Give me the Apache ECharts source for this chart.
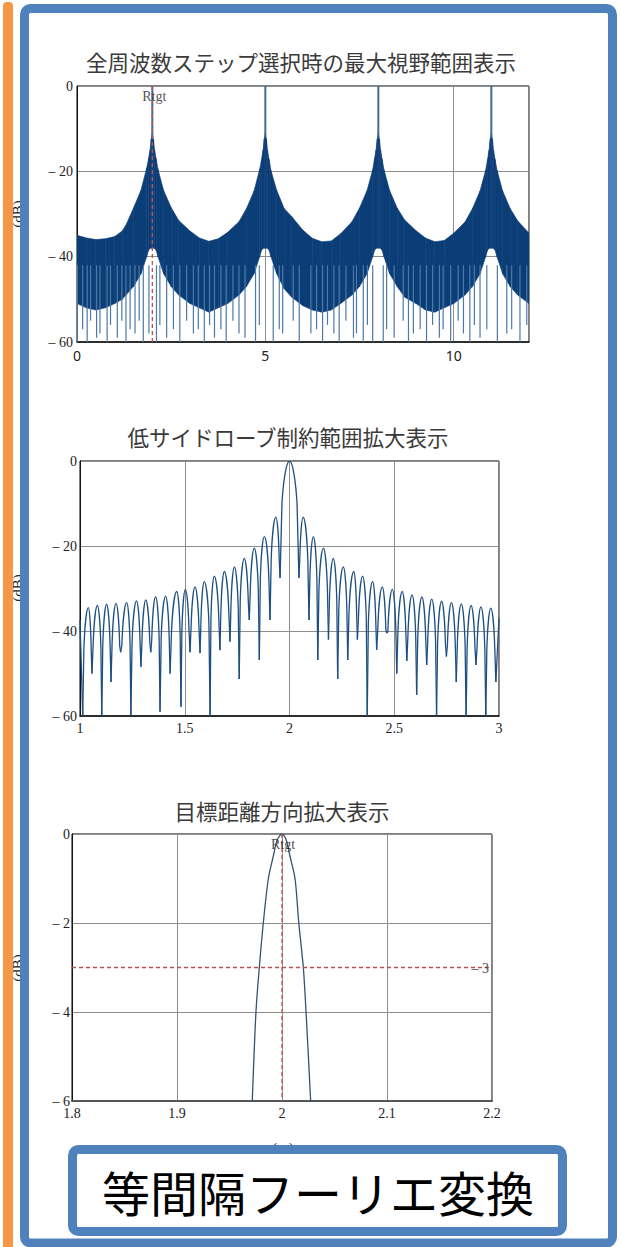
<!DOCTYPE html>
<html>
<head>
<meta charset="utf-8">
<script src="https://cdn.jsdelivr.net/npm/echarts@6/dist/echarts.min.js"></script>
<style>
  html, body { margin: 0; padding: 0; background: #fff; }
  #main { width: 621px; height: 1247px; }
</style>
</head>
<body>
<div id="main"></div>
<script>
// ---------- text ----------
const chartTitles = ['全周波数ステップ選択時の最大視野範囲表示', '低サイドローブ制約範囲拡大表示', '目標距離方向拡大表示'];
const bannerText = '等間隔フーリエ変換';
const yAxisName = '(dB)';
const xAxisName = '(m)';
const targetLabel = 'Rtgt';
const targetX = 2;          // target range
const halfPowerDb = -3;     // -3 dB reference level

// ---------- axes ----------
const chart1XRange = [0, 12], chart1XStep = 5;
const chart1YRange = [-60, 0], chart1YStep = 20;
const chart2XRange = [1, 3], chart2XStep = 0.5;
const chart2YRange = [-60, 0], chart2YStep = 20;
const chart3XRange = [1.8, 2.2], chart3XStep = 0.1;
const chart3YRange = [-6, 0], chart3YStep = 2;

// ---------- chart 1 : full range, dense response ----------
// envelope of the dense oscillation (top and solid bottom of the filled band)
const chart1EnvX = [0, 0.25, 0.5, 0.75, 1.0, 1.2, 1.3, 1.5, 1.7, 1.85, 1.9, 1.94, 1.97, 2.0,
  2.03, 2.06, 2.1, 2.15, 2.3, 2.5, 2.7, 3.0, 3.25, 3.5, 3.75, 4.0, 4.3, 4.5, 4.7, 4.85, 4.9, 4.94, 4.97, 5.0,
  5.03, 5.06, 5.1, 5.15, 5.3, 5.5, 5.7, 6.0, 6.25, 6.5, 6.75, 7.0, 7.3, 7.5, 7.7, 7.85, 7.9, 7.94, 7.97, 8.0,
  8.03, 8.06, 8.1, 8.15, 8.3, 8.5, 8.7, 9.0, 9.25, 9.5, 9.75, 10.0, 10.3, 10.5, 10.7, 10.85, 10.9, 10.94, 10.97, 11.0,
  11.03, 11.06, 11.1, 11.15, 11.3, 11.5, 11.7, 12.0];
const chart1UpperDb = [-35.0, -35.6, -36.0, -35.8, -35.3, -34.0, -32.6, -28.6, -24.4, -19.2, -17.0, -15.0, -12.5, -11.0,
  -12.5, -15.0, -17.0, -19.5, -24.5, -28.5, -31.5, -34.0, -35.6, -36.4, -35.8, -34.3, -31.8, -28.7, -24.6, -19.5, -17.2, -15.0, -12.5, -11.0,
  -12.5, -15.2, -17.2, -19.8, -24.4, -28.7, -30.6, -33.8, -35.7, -36.5, -36.3, -34.6, -31.8, -28.6, -24.5, -19.6, -17.0, -15.0, -12.5, -11.0,
  -12.5, -15.0, -17.1, -19.6, -24.5, -28.6, -31.4, -33.9, -35.6, -36.5, -36.2, -34.5, -31.9, -28.7, -24.6, -19.7, -17.2, -15.0, -12.5, -11.0,
  -12.5, -15.1, -17.2, -19.7, -24.6, -28.7, -31.6, -34.5];
const chart1LowerDb = [-51, -52, -52.5, -52, -51, -50, -49, -47, -44, -40, -38.5, -38, -38, -38,
  -38, -38, -38.5, -40, -44, -47, -49, -51, -52, -53, -52, -51, -49, -47, -44, -40, -38.5, -38, -38, -38,
  -38, -38, -38.5, -40, -44, -47.5, -49.5, -51.5, -52.5, -53, -52.5, -51, -49, -47, -44, -40, -38.5, -38, -38, -38,
  -38, -38, -38.5, -40, -44, -47, -49.5, -51, -52.5, -53, -52, -51, -49, -47, -44, -40, -38.5, -38, -38, -38,
  -38, -38, -38.5, -40, -44, -47, -49, -51];
// aliased main-lobe peaks
const chart1PeakX = [2, 5, 8, 11];
const chart1PeakDb = [0, 0, 0, 0];
// deep nulls reaching below the band
const chart1NullX = [0.01, 0.15, 0.27, 0.36, 0.52, 0.61, 0.80, 0.89, 1.07, 1.19, 1.30, 1.41, 1.54, 1.65, 1.76, 1.91,
  2.11, 2.20, 2.38, 2.56, 2.73, 2.91, 3.09, 3.22, 3.38, 3.52, 3.65, 3.82, 3.96, 4.14, 4.30, 4.46, 4.74, 4.84,
  5.21, 5.37, 5.46, 5.74, 5.90, 6.21, 6.36, 6.52, 6.65, 6.82, 6.96, 7.14, 7.34, 7.42, 7.60, 7.71, 7.85,
  8.13, 8.22, 8.42, 8.66, 8.80, 8.93, 9.11, 9.28, 9.44, 9.62, 9.72, 9.92, 10.12, 10.26, 10.43, 10.55, 10.70, 10.88,
  11.16, 11.41, 11.54, 11.76, 11.94];
const chart1NullDb = [-60, -57, -60, -55, -59, -58, -60, -56, -59, -55, -60, -57, -58, -55, -60, -58,
  -60, -56, -59, -57, -60, -55, -58, -57, -60, -56, -59, -57, -60, -55, -58, -59, -60, -56,
  -60, -57, -58, -55, -60, -58, -57, -60, -56, -58, -60, -55, -59, -58, -60, -56, -60,
  -60, -57, -59, -55, -60, -58, -57, -60, -56, -59, -57, -60, -55, -58, -60, -56, -59, -57,
  -60, -58, -57, -60, -56];

// ---------- chart 2 : zoom around the target, lobe by lobe ----------
// alternating null / lobe-peak positions (even index = null, odd index = peak)
const chart2X = [1.013, 1.040, 1.057, 1.083, 1.104, 1.127, 1.148, 1.172, 1.194, 1.223, 1.243, 1.270, 1.291, 1.314,
  1.338, 1.361, 1.382, 1.409, 1.430, 1.462, 1.482, 1.503, 1.525, 1.549, 1.573, 1.593, 1.621, 1.641, 1.668, 1.689,
  1.716, 1.737, 1.760, 1.784, 1.808, 1.832, 1.856, 1.880, 1.907, 1.935, 1.955, 2.000, 2.045, 2.065, 2.093, 2.114,
  2.135, 2.162, 2.186, 2.209, 2.230, 2.257, 2.278, 2.307, 2.324, 2.349, 2.371, 2.397, 2.416, 2.443, 2.464, 2.491,
  2.512, 2.538, 2.560, 2.585, 2.607, 2.632, 2.655, 2.679, 2.702, 2.726, 2.749, 2.773, 2.796, 2.820, 2.843, 2.867,
  2.890, 2.914, 2.937, 2.961, 2.985];
const chart2Db = [-60, -34.5, -50, -34.0, -60, -33.7, -52, -33.5, -45, -33.3, -60, -32.9, -48.4, -32.7,
  -45, -31.9, -59, -31.8, -50, -30.7, -57.8, -30.2, -45, -29.6, -45.2, -28.4, -60, -27.1, -44.5, -26.0,
  -42.5, -24.9, -51.3, -22.9, -37.4, -20.5, -46.8, -17.8, -37.4, -13.2, -27.5, 0, -27.5, -13.2, -37.4, -17.8,
  -46.8, -20.5, -42, -22.9, -51.3, -24.9, -46.8, -26.0, -42, -27.1, -60, -28.4, -44.4, -29.6, -40.5, -30.2,
  -50, -30.7, -47, -31.5, -55, -32.0, -48, -32.5, -60, -33.0, -46, -33.3, -52, -33.6, -60, -34.0,
  -48, -34.3, -60, -34.6, -52];
const chart2StartPoint = [1.0, -37.4];
const chart2EndPoint = [3.0, -37.0];

// ---------- chart 3 : main lobe ----------
const chart3X = [1.9717, 1.9752, 1.9784, 1.9822, 1.9870, 1.9917, 1.9955, 2.0, 2.0040, 2.0076, 2.0124, 2.0160, 2.0203, 2.0229, 2.0273];
const chart3Db = [-6, -4, -3, -2, -1, -0.5, -0.13, 0, -0.13, -0.5, -1, -2, -3, -4, -6];

// ---------- styles ----------
const SERIF = '"Liberation Serif", "DejaVu Serif", serif';
const SANS = '"Noto Sans", "DejaVu Sans", sans-serif';
const CJK = '"Noto Sans CJK JP", "Noto Sans", sans-serif';
const BAND_COLOR = '#0b3d77';
const NULL_COLOR = '#4d79a6';
const STEM_COLOR = '#3f6b97';
const LOBE_COLOR = '#1d4f82';
const LOBE3_COLOR = '#34536f';
const MARK_RED = '#c0504d';
const NULL_TOP_DB = -42;   // nulls are drawn from inside the band downwards
const STEM_BASE_DB = -12;  // peak stems join the band here
const LOBE_CAP_DB = 10;    // depth of the rounded lobe cap

function dbLabel(v) { return v < 0 ? '\u2013 ' + Math.abs(v) : String(v); }
function zip(xs, ys) { return xs.map((x, i) => [x, ys[i]]); }

// band: one quadrilateral per envelope segment
const bandItems = [];
for (let i = 0; i + 1 < chart1EnvX.length; i++) {
  bandItems.push([chart1EnvX[i], chart1UpperDb[i], chart1LowerDb[i], chart1EnvX[i + 1], chart1UpperDb[i + 1], chart1LowerDb[i + 1]]);
}
// lobes: null - peak - null triples
const lobeItems = [];
for (let i = 0; i + 2 < chart2X.length; i += 2) {
  lobeItems.push([chart2X[i], chart2Db[i], chart2X[i + 1], chart2Db[i + 1], chart2X[i + 2], chart2Db[i + 2]]);
}
const n2 = chart2X.length - 1;

function renderBand(params, api) {
  const a = api.coord([api.value(0), api.value(1)]);
  const b = api.coord([api.value(3), api.value(4)]);
  const c = api.coord([api.value(3), api.value(5)]);
  const d = api.coord([api.value(0), api.value(2)]);
  return { type: 'polygon', shape: { points: [a, b, c, d] }, style: { fill: BAND_COLOR, stroke: BAND_COLOR, lineWidth: 0.6 } };
}
function renderNull(params, api) {
  const t = api.coord([api.value(0), NULL_TOP_DB]);
  const b = api.coord([api.value(0), api.value(1)]);
  return { type: 'line', shape: { x1: t[0], y1: t[1], x2: b[0], y2: b[1] }, style: { stroke: NULL_COLOR, lineWidth: 1.2 } };
}
function renderStem(params, api) {
  const t = api.coord([api.value(0), api.value(1)]);
  const b = api.coord([api.value(0), STEM_BASE_DB]);
  return { type: 'line', shape: { x1: t[0], y1: t[1], x2: b[0], y2: b[1] }, style: { stroke: STEM_COLOR, lineWidth: 2 } };
}
function renderLobe(params, api) {
  const L = api.coord([api.value(0), api.value(1)]);
  const P = api.coord([api.value(2), api.value(3)]);
  const R = api.coord([api.value(4), api.value(5)]);
  const cap = api.size([0, LOBE_CAP_DB])[1];
  const wl = P[0] - L[0], wr = R[0] - P[0];
  let d = 'M' + L[0] + ' ' + L[1];
  if (L[1] - P[1] > cap) d += ' L' + (L[0] + 0.2 * wl) + ' ' + (P[1] + cap);
  d += ' C' + (L[0] + 0.32 * wl) + ' ' + (P[1] + 0.52 * cap) + ' ' + (L[0] + 0.65 * wl) + ' ' + P[1] + ' ' + P[0] + ' ' + P[1];
  d += ' C' + (R[0] - 0.65 * wr) + ' ' + P[1] + ' ' + (R[0] - 0.32 * wr) + ' ' + (P[1] + 0.52 * cap) + ' ';
  if (R[1] - P[1] > cap) d += (R[0] - 0.2 * wr) + ' ' + (P[1] + cap) + ' L' + R[0] + ' ' + R[1];
  else d += R[0] + ' ' + R[1];
  return { type: 'path', shape: { pathData: d }, style: { fill: 'none', stroke: LOBE_COLOR, lineWidth: 1.3 } };
}

function makeXAxis(gi, range, step, font, margin, lineColor, lineWidth, showMax) {
  return {
    type: 'value', gridIndex: gi, min: range[0], max: range[1], interval: step,
    axisLine: { show: true, onZero: false, lineStyle: { color: lineColor, width: lineWidth } },
    axisTick: { show: false },
    splitLine: { show: true, lineStyle: { color: '#8e8e8e', width: 1 } },
    axisLabel: { fontFamily: font, fontSize: 14, color: '#222', margin: margin, showMaxLabel: showMax }
  };
}
function makeYAxis(gi, range, step, margin) {
  return {
    type: 'value', gridIndex: gi, min: range[0], max: range[1], interval: step,
    axisLine: { show: true, onZero: false, lineStyle: { color: '#111', width: 1 } },
    axisTick: { show: false },
    splitLine: { show: true, lineStyle: { color: '#8e8e8e', width: 1 } },
    axisLabel: { fontFamily: SERIF, fontSize: 14, color: '#222', margin: margin, formatter: dbLabel }
  };
}
function markerLabel(gi, point, text, position, offset) {
  return {
    type: 'scatter', xAxisIndex: gi, yAxisIndex: gi, data: [point], symbolSize: 0, silent: true, z: 6,
    label: { show: true, formatter: text, position: position, distance: 3, offset: offset,
      fontFamily: SERIF, fontSize: 14, color: '#222' }
  };
}
function dashedLine(gi, pts) {
  return {
    type: 'line', xAxisIndex: gi, yAxisIndex: gi, data: pts, symbol: 'none', silent: true, z: 5,
    lineStyle: { color: MARK_RED, width: 1.3, type: [4, 3] }
  };
}

const chart = echarts.init(document.getElementById('main'), null, { renderer: 'svg', width: 621, height: 1247 });

const gridStyle = { show: true, borderColor: '#000', borderWidth: 1, backgroundColor: 'transparent', containLabel: false };
const titleX = [301, 288, 282];
const titleTop = [51, 426, 800];

chart.setOption({
  animation: false,
  backgroundColor: '#fff',
  title: chartTitles.map((t, i) => ({
    text: t, left: titleX[i], top: titleTop[i], textAlign: 'center', padding: 0,
    textStyle: { fontFamily: CJK, fontSize: 21.5, fontWeight: 'normal', color: '#3a3a3a' }
  })),
  grid: [
    Object.assign({ left: 77, top: 86, width: 452, height: 256 }, gridStyle),
    Object.assign({ left: 80, top: 461, width: 419, height: 255 }, gridStyle),
    Object.assign({ left: 72, top: 834, width: 420, height: 267 }, gridStyle)
  ],
  xAxis: [
    makeXAxis(0, chart1XRange, chart1XStep, SANS, 6, '#111', 1.5, false),
    makeXAxis(1, chart2XRange, chart2XStep, SERIF, 5, '#111', 1.5, true),
    makeXAxis(2, chart3XRange, chart3XStep, SERIF, 5, '#555', 2, true)
  ],
  yAxis: [
    makeYAxis(0, chart1YRange, chart1YStep, 4),
    makeYAxis(1, chart2YRange, chart2YStep, 3),
    makeYAxis(2, chart3YRange, chart3YStep, 2)
  ],
  series: [
    // chart 1
    { type: 'custom', xAxisIndex: 0, yAxisIndex: 0, data: bandItems, renderItem: renderBand, clip: true, silent: true,
      encode: { x: [0, 3], y: [1, 2, 4, 5] }, z: 2 },
    { type: 'custom', xAxisIndex: 0, yAxisIndex: 0, data: zip(chart1NullX, chart1NullDb), renderItem: renderNull, clip: true, silent: true,
      encode: { x: 0, y: 1 }, z: 3 },
    { type: 'custom', xAxisIndex: 0, yAxisIndex: 0, data: zip(chart1PeakX, chart1PeakDb), renderItem: renderStem, clip: true, silent: true,
      encode: { x: 0, y: 1 }, z: 3 },
    dashedLine(0, [[targetX, chart1YRange[1]], [targetX, chart1YRange[0]]]),
    markerLabel(0, [targetX, chart1YRange[1]], targetLabel, 'bottom', [2, 0]),
    // chart 2
    { type: 'custom', xAxisIndex: 1, yAxisIndex: 1, data: lobeItems, renderItem: renderLobe, clip: true, silent: true,
      encode: { x: [0, 2, 4], y: [1, 3, 5] }, z: 3 },
    { type: 'line', xAxisIndex: 1, yAxisIndex: 1, symbol: 'none', silent: true, z: 3,
      data: [chart2StartPoint, [chart2X[0], chart2Db[0]]], lineStyle: { color: LOBE_COLOR, width: 1.3 } },
    { type: 'line', xAxisIndex: 1, yAxisIndex: 1, symbol: 'none', silent: true, z: 3,
      data: [[chart2X[n2], chart2Db[n2]], chart2EndPoint], lineStyle: { color: LOBE_COLOR, width: 1.3 } },
    // chart 3
    dashedLine(2, [[chart3XRange[0], halfPowerDb], [chart3XRange[1], halfPowerDb]]),
    dashedLine(2, [[targetX, chart3YRange[1]], [targetX, chart3YRange[0]]]),
    { type: 'line', xAxisIndex: 2, yAxisIndex: 2, symbol: 'none', smooth: 0.3, silent: true, z: 4, clip: true,
      data: zip(chart3X, chart3Db), lineStyle: { color: LOBE3_COLOR, width: 1.3 } },
    markerLabel(2, [targetX, chart3YRange[1]], targetLabel, 'bottom', [1, 0]),
    markerLabel(2, [chart3XRange[1], halfPowerDb], dbLabel(halfPowerDb), 'left', [0, 1])
  ],
  graphic: [
    // axis names, partly hidden under the frame
    { type: 'text', x: 18, y: 214, rotation: Math.PI / 2, z: 1,
      style: { text: yAxisName, fontFamily: SERIF, fontSize: 15, fill: '#222', align: 'center', verticalAlign: 'middle' } },
    { type: 'text', x: 18, y: 588, rotation: Math.PI / 2, z: 1,
      style: { text: yAxisName, fontFamily: SERIF, fontSize: 15, fill: '#222', align: 'center', verticalAlign: 'middle' } },
    { type: 'text', x: 18, y: 968, rotation: Math.PI / 2, z: 1,
      style: { text: yAxisName, fontFamily: SERIF, fontSize: 15, fill: '#222', align: 'center', verticalAlign: 'middle' } },
    { type: 'text', x: 283, y: 1148, z: 1,
      style: { text: xAxisName, fontFamily: SERIF, fontSize: 15, fill: '#222', align: 'center', verticalAlign: 'middle' } },
    // side bar and frame
    { type: 'rect', z: 50, shape: { x: 3, y: 2, width: 10, height: 1260, r: 4 }, style: { fill: '#f79646' } },
    { type: 'rect', z: 50, shape: { x: 24.5, y: 8.5, width: 588, height: 1234.5, r: 6 },
      style: { fill: 'none', stroke: '#4f81bd', lineWidth: 9 } },
    // caption box
    { type: 'rect', z: 50, shape: { x: 72.5, y: 1149.5, width: 490, height: 82, r: 6 },
      style: { fill: '#fff', stroke: '#4f81bd', lineWidth: 9 } },
    { type: 'text', z: 51, x: 318, y: 1191,
      style: { text: bannerText, fontFamily: CJK, fontSize: 48, fill: '#000', align: 'center', verticalAlign: 'middle' } }
  ]
});
</script>
</body>
</html>
